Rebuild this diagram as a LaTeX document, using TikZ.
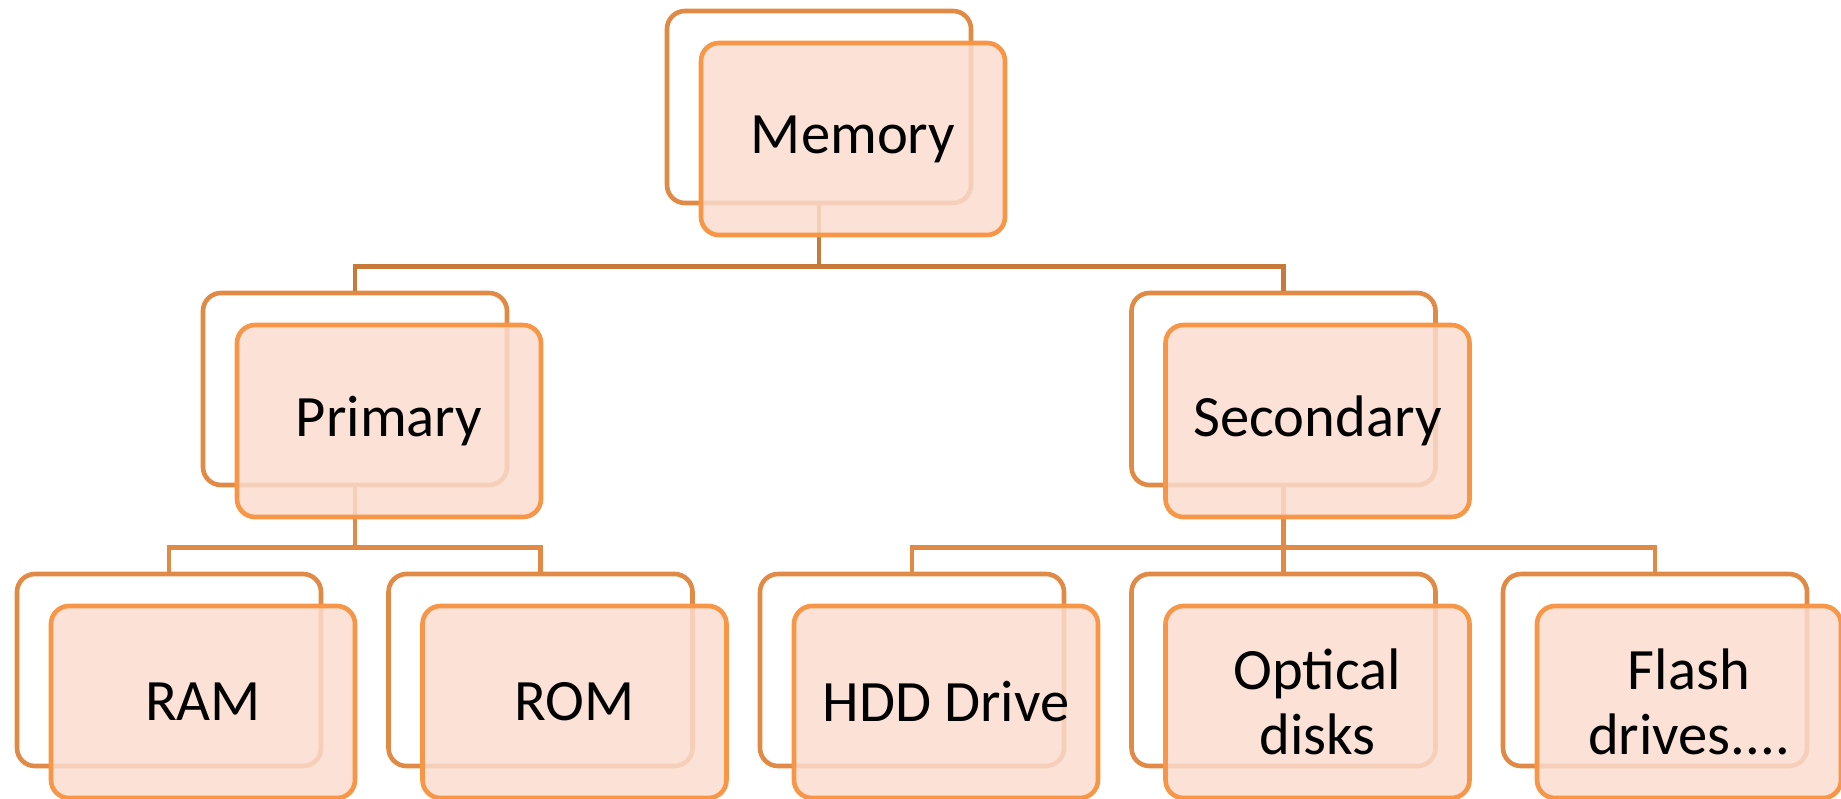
\documentclass[tikz,border=0pt]{standalone}
\usepackage{fontspec}
\setmainfont{Carlito}
\definecolor{backline}{RGB}{225,138,69}
\definecolor{topline}{RGB}{200,122,58}
\definecolor{frontline}{RGB}{247,150,70}
\definecolor{frontfill}{RGB}{250,220,207}
\tikzset{
  backbox/.style={draw=backline, line width=2.3pt, rounded corners=9pt,
    minimum width=152pt, minimum height=96pt, inner sep=0pt},
  frontbox/.style={draw=frontline, line width=2.3pt, rounded corners=9pt,
    fill=frontfill, fill opacity=0.85, text opacity=1,
    minimum width=152pt, minimum height=96pt, inner sep=0pt,
    align=center, font=\fontsize{29.3}{32.5}\selectfont},
  link/.style={draw=backline, line width=2.2pt},
  toplink/.style={draw=topline, line width=2.2pt}
}
\begin{document}
\begin{tikzpicture}[x=0.5pt,y=-0.5pt]
\useasboundingbox (0,0) rectangle (1841,798);
% back frames
\node[backbox] (mem-b) at (819,107) {};
\node[backbox] (pri-b) at (355,389) {};
\node[backbox] (sec-b) at (1283.5,389) {};
\node[backbox] (ram-b) at (169,670) {};
\node[backbox] (rom-b) at (540.5,670) {};
\node[backbox] (hdd-b) at (912,670) {};
\node[backbox] (opt-b) at (1283.5,670) {};
\node[backbox] (fla-b) at (1655,670) {};
% tree connectors
\draw[toplink] (mem-b.south) -- ++(0,61) -| (pri-b.north);
\draw[toplink] (mem-b.south) -- ++(0,61) -| (sec-b.north);
\draw[link] (pri-b.south) -- ++(0,60) -| (ram-b.north);
\draw[link] (pri-b.south) -- ++(0,60) -| (rom-b.north);
\draw[link] (sec-b.south) -- ++(0,60) -| (hdd-b.north);
\draw[link] (sec-b.south) -- ++(0,60) -| (opt-b.north);
\draw[link] (sec-b.south) -- ++(0,60) -| (fla-b.north);
% labelled boxes
\node[frontbox] (mem) at (853,139) {Memory};
\node[frontbox] (pri) at (389,421) {Primary};
\node[frontbox] (sec) at (1317.5,421) {Secondary};
\node[frontbox] (ram) at (203,702) {RAM};
\node[frontbox] (rom) at (574.5,702) {ROM};
\node[frontbox] (hdd) at (946,702) {HDD Drive};
\node[frontbox] (opt) at (1317.5,702) {Optical\\disks};
\node[frontbox] (fla) at (1689,702) {Flash\\drives....};
\end{tikzpicture}
\end{document}
